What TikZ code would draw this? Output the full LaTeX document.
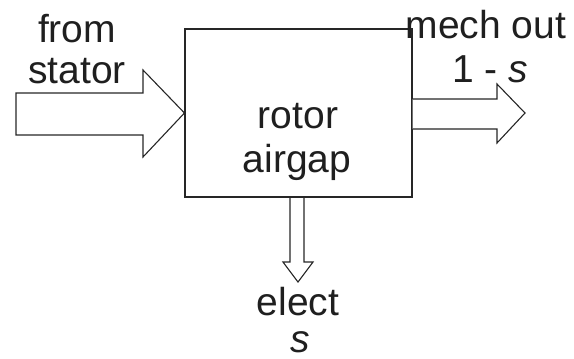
\documentclass[tikz,border=0pt]{standalone}
\usepackage{fontspec}
\setmainfont{Liberation Sans}
\usetikzlibrary{calc}
\begin{document}
\begin{tikzpicture}[x=1pt,y=-1pt,
  lbl/.style={anchor=base,inner sep=0pt,font=\fontsize{39}{43}\selectfont,text=black!88},
  outl/.style={draw=black!85,line width=1.1pt,line join=miter}]
\useasboundingbox (0,0) rectangle (574,359);
\node[outl,minimum width=227pt,minimum height=168pt,inner sep=0pt] (box) at (298.5,113) {};
% input arrow
\coordinate (inTip) at (box.west);
\draw[outl] (16,93) -- (143,93) -- (143,70) -- (inTip) -- (143,157) -- (143,135) -- (16,135) -- cycle;
% output arrow
\draw[outl,fill=white] ($(box.east)+(0,-14)$) -- (497,99) -- (497,84) -- (525,113) -- (497,143) -- (497,129) -- ($(box.east)+(0,16)$);
% down arrow
\draw[outl] (290,197) -- (290,262) -- (283,262) -- (298,282) -- (313,262) -- (304,262) -- (304,197);
\node[lbl] (from) at (77,42) {from};
\node[lbl] (stator) at (77,83) {stator};
\node[lbl] (rotor) at (298,128) {rotor};
\node[lbl] (airgap) at (297,172) {airgap};
\node[lbl] (mech) at (486,38) {mech out};
\node[lbl] (slip1) at (490,82) {1 - \textit{s}};
\node[lbl,align=center,font=\fontsize{39}{37}\selectfont] (elect) at (298,352) {elect\\\hspace*{4pt}\textit{s}};
\end{tikzpicture}
\end{document}
